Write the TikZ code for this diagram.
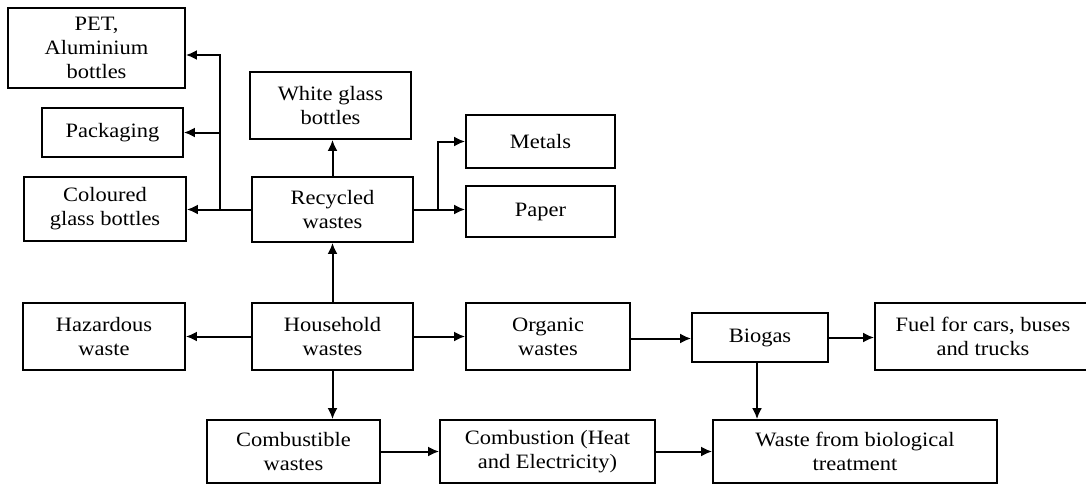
\documentclass[tikz,border=0pt]{standalone}
\usepackage{fontspec}
\setmainfont[FakeStretch=1.1]{Liberation Serif}
\usepackage{tikz}
\usetikzlibrary{arrows.meta,positioning}

\tikzset{
	box/.style={draw, line width=1.8bp, align=center, inner sep=2bp,
		font=\fontsize{20.5}{24}\selectfont},
	flow/.style={->, line width=2bp}
}

\begin{document}
\begin{tikzpicture}[>={Latex[length=11bp,width=10bp]}]
	\useasboundingbox (0bp,0bp) rectangle (1086bp,-486bp);

	% recycled branch
	\node (pet) at (96.5bp,-48bp) [box, minimum width=177bp, minimum height=80bp] {PET,\\Aluminium\\bottles};
	\node (pack) at (112.5bp,-132.5bp) [box, minimum width=141bp, minimum height=49bp] {Packaging};
	\node (colour) at (105bp,-209bp) [box, minimum width=162bp, minimum height=64bp] {Coloured\\glass bottles};
	\node (white) at (330.5bp,-105.5bp) [box, minimum width=161bp, minimum height=67bp] {White glass\\bottles};
	\node (recyc) at (332.5bp,-209.5bp) [box, minimum width=161bp, minimum height=65bp] {Recycled\\wastes};
	\node (metals) at (540.5bp,-141.5bp) [box, minimum width=149bp, minimum height=53bp] {Metals};
	\node (paper) at (540.5bp,-211.5bp) [box, minimum width=149bp, minimum height=51bp] {Paper};

	% household row
	\node (hazard) at (104bp,-336.5bp) [box, minimum width=162bp, minimum height=67bp] {Hazardous\\waste};
	\node (house) at (332.5bp,-336.5bp) [box, minimum width=161bp, minimum height=67bp] {Household\\wastes};
	\node (organic) at (548bp,-336.5bp) [box, minimum width=164bp, minimum height=67bp] {Organic\\wastes};
	\node (biogas) at (760bp,-337.5bp) [box, minimum width=136bp, minimum height=49bp] {Biogas};
	\node (fuel) at (983bp,-336.5bp) [box, minimum width=216bp, minimum height=67bp] {Fuel for cars, buses\\and trucks};

	% bottom row
	\node (comb) at (293.5bp,-451.5bp) [box, minimum width=173bp, minimum height=63bp] {Combustible\\wastes};
	\node (combust) at (547.5bp,-451.5bp) [box, minimum width=215bp, minimum height=63bp] {Combustion (Heat\\and Electricity)};
	\node (biowaste) at (855bp,-451.5bp) [box, minimum width=284bp, minimum height=63bp] {Waste from biological\\treatment};

	\coordinate (jl) at (220bp,-210bp);
	\coordinate (jr) at (438bp,-210bp);

	\draw [flow] (recyc.west) -- (recyc.west -| colour.east);
	\draw [flow] (jl) |- ([yshift=-7bp]pet.east);
	\draw [flow] (jl) |- (pack.east);
	\draw [flow] (recyc.north) -- (recyc.north |- white.south);
	\draw [flow] (recyc.east) -- (recyc.east -| paper.west);
	\draw [flow] (jr) |- (metals.west);

	\draw [flow] (house.north) -- (recyc.south);
	\draw [flow] (house.west) -- (hazard.east);
	\draw [flow] (house.east) -- (organic.west);
	\draw [flow] ([yshift=-2bp]organic.east) -- ([yshift=-2bp]organic.east -| biogas.west);
	\draw [flow] (biogas.east) -- (biogas.east -| fuel.west);
	\draw [flow] ([xshift=-3bp]biogas.south) -- ([xshift=-3bp]biogas.south |- biowaste.north);

	\draw [flow] (house.south) -- (house.south |- comb.north);
	\draw [flow] (comb.east) -- (combust.west);
	\draw [flow] (combust.east) -- (biowaste.west);
\end{tikzpicture}
\end{document}
